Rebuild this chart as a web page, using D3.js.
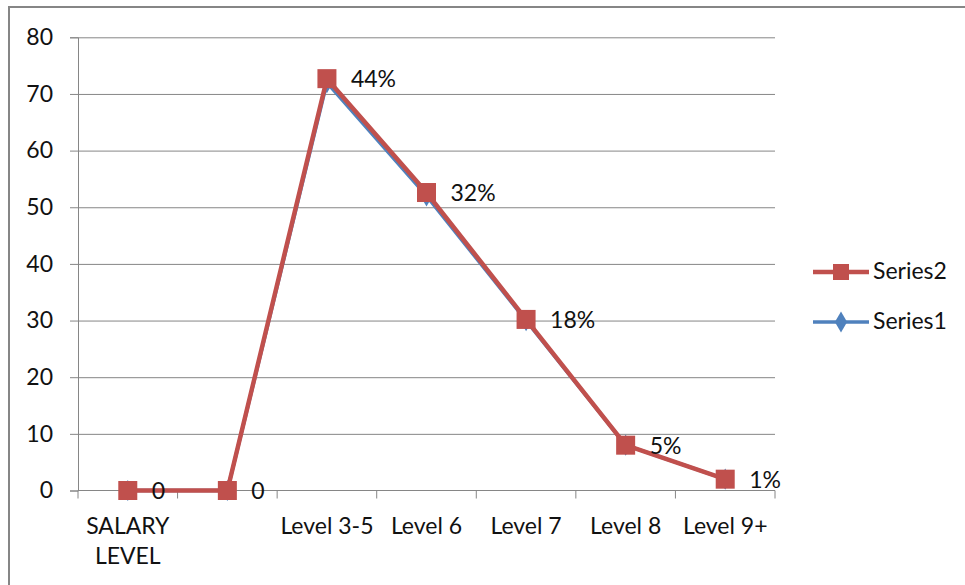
<!DOCTYPE html>
<html>
<head>
<meta charset="utf-8">
<script src="https://cdn.jsdelivr.net/npm/d3@7"></script>
<style>
  html, body { margin: 0; padding: 0; background: #fff; }
  svg { display: block; }
  text { font-family: Lato, "Open Sans", sans-serif; fill: #111; }
</style>
</head>
<body>
<svg id="chart" width="965" height="585"></svg>
<script>
// Categories along the x axis (first one wraps onto two lines)
const categories = ["SALARY LEVEL", "", "Level 3-5", "Level 6", "Level 7", "Level 8", "Level 9+"];
// Series values
const series1 = [0, 0, 72, 52, 30, 8, 2];
const series2 = [0, 0, 72.7, 52.6, 30.2, 8, 2];
// Data labels shown beside Series2 points
const series2Labels = ["0", "0", "44%", "32%", "18%", "5%", "1%"];
// Y axis ticks
const yTicks = [0, 10, 20, 30, 40, 50, 60, 70, 80];
const seriesNames = ["Series2", "Series1"];

const RED = "#C0504D", BLUE = "#4F81BD", GRID = "#868686";
const FS = 23;

const svg = d3.select("#chart");
const plot = { left: 78, right: 775, top: 37.3, bottom: 490.5 };

// Outer chart frame (runs off the right and bottom edges)
svg.append("rect")
  .attr("x", 9).attr("y", 7).attr("width", 1000).attr("height", 620)
  .attr("fill", "#fff").attr("stroke", GRID).attr("stroke-width", 2);

const x = d3.scaleBand().domain(d3.range(categories.length))
  .range([plot.left, plot.right]).padding(0);
const y = d3.scaleLinear().domain([0, 80]).range([plot.bottom, plot.top]);
const cx = i => x(i) + x.bandwidth() / 2;

// Horizontal gridlines + y axis
const yAxis = d3.axisLeft(y).tickValues(yTicks).tickSize(8).tickPadding(17);
const gy = svg.append("g").attr("transform", `translate(${plot.left},0)`).call(yAxis);
gy.select(".domain").attr("stroke", GRID);
gy.selectAll(".tick line").attr("stroke", GRID);
gy.selectAll(".tick text").attr("font-size", FS).attr("font-family", "Lato").attr("fill", "#111");

svg.append("g").selectAll("line").data(yTicks.filter(d => d > 0)).join("line")
  .attr("x1", plot.left).attr("x2", plot.right)
  .attr("y1", d => y(d) + 0.5).attr("y2", d => y(d) + 0.5)
  .attr("stroke", GRID).attr("stroke-width", 1);

// X axis with tick marks at band boundaries
const gx = svg.append("g").attr("transform", `translate(0,${plot.bottom})`);
gx.append("line").attr("x1", plot.left).attr("x2", plot.right)
  .attr("stroke", GRID).attr("stroke-width", 1);
gx.selectAll("line.tk").data(d3.range(categories.length + 1)).join("line")
  .attr("class", "tk")
  .attr("x1", i => i < categories.length ? x(i) : plot.right)
  .attr("x2", i => i < categories.length ? x(i) : plot.right)
  .attr("y1", 0).attr("y2", 8).attr("stroke", GRID);
const xl = gx.selectAll("text").data(categories).join("text")
  .attr("text-anchor", "middle").attr("font-size", FS)
  .attr("transform", (d, i) => `translate(${cx(i)},0)`);
xl.each(function(d) {
  const words = d.indexOf("SALARY") === 0 ? d.split(" ") : [d];
  d3.select(this).selectAll("tspan").data(words).join("tspan")
    .attr("x", 0).attr("y", (w, j) => 43 + j * 30).text(w => w);
});

// Series lines
const line = d3.line().x((d, i) => cx(i)).y(d => y(d));
svg.append("path").datum(series1).attr("d", line)
  .attr("fill", "none").attr("stroke", BLUE).attr("stroke-width", 3.5)
  .attr("stroke-linejoin", "round");
svg.append("g").selectAll("path").data(series1).join("path")
  .attr("d", d3.symbol(d3.symbolDiamond, 130)())
  .attr("transform", (d, i) => `translate(${cx(i)},${y(d)})`)
  .attr("fill", BLUE);

svg.append("path").datum(series2).attr("d", line)
  .attr("fill", "none").attr("stroke", RED).attr("stroke-width", 4.5)
  .attr("stroke-linejoin", "round");
const M = 19;
svg.append("g").selectAll("rect").data(series2).join("rect")
  .attr("x", (d, i) => cx(i) - M / 2).attr("y", d => y(d) - M / 2)
  .attr("width", M).attr("height", M).attr("fill", RED);

// Data labels
svg.append("g").selectAll("text").data(series2).join("text")
  .attr("x", (d, i) => cx(i) + 24).attr("y", d => y(d) + 3)
  .attr("dominant-baseline", "middle").attr("font-size", FS)
  .text((d, i) => series2Labels[i]);

// Legend
const lg = svg.append("g");
seriesNames.forEach((name, k) => {
  const ly = 272 + k * 50;
  const col = k === 0 ? RED : BLUE;
  lg.append("line").attr("x1", 813).attr("x2", 869).attr("y1", ly).attr("y2", ly)
    .attr("stroke", col).attr("stroke-width", k === 0 ? 4.5 : 3.5);
  if (k === 0) {
    lg.append("rect").attr("x", 841 - 8).attr("y", ly - 8).attr("width", 16).attr("height", 16).attr("fill", RED);
  } else {
    lg.append("path").attr("d", d3.symbol(d3.symbolDiamond, 130)())
      .attr("transform", `translate(841,${ly})`).attr("fill", BLUE);
  }
  lg.append("text").attr("x", 873).attr("y", ly + 1).attr("dominant-baseline", "middle")
    .attr("font-size", FS).text(name);
});
</script>
</body>
</html>
